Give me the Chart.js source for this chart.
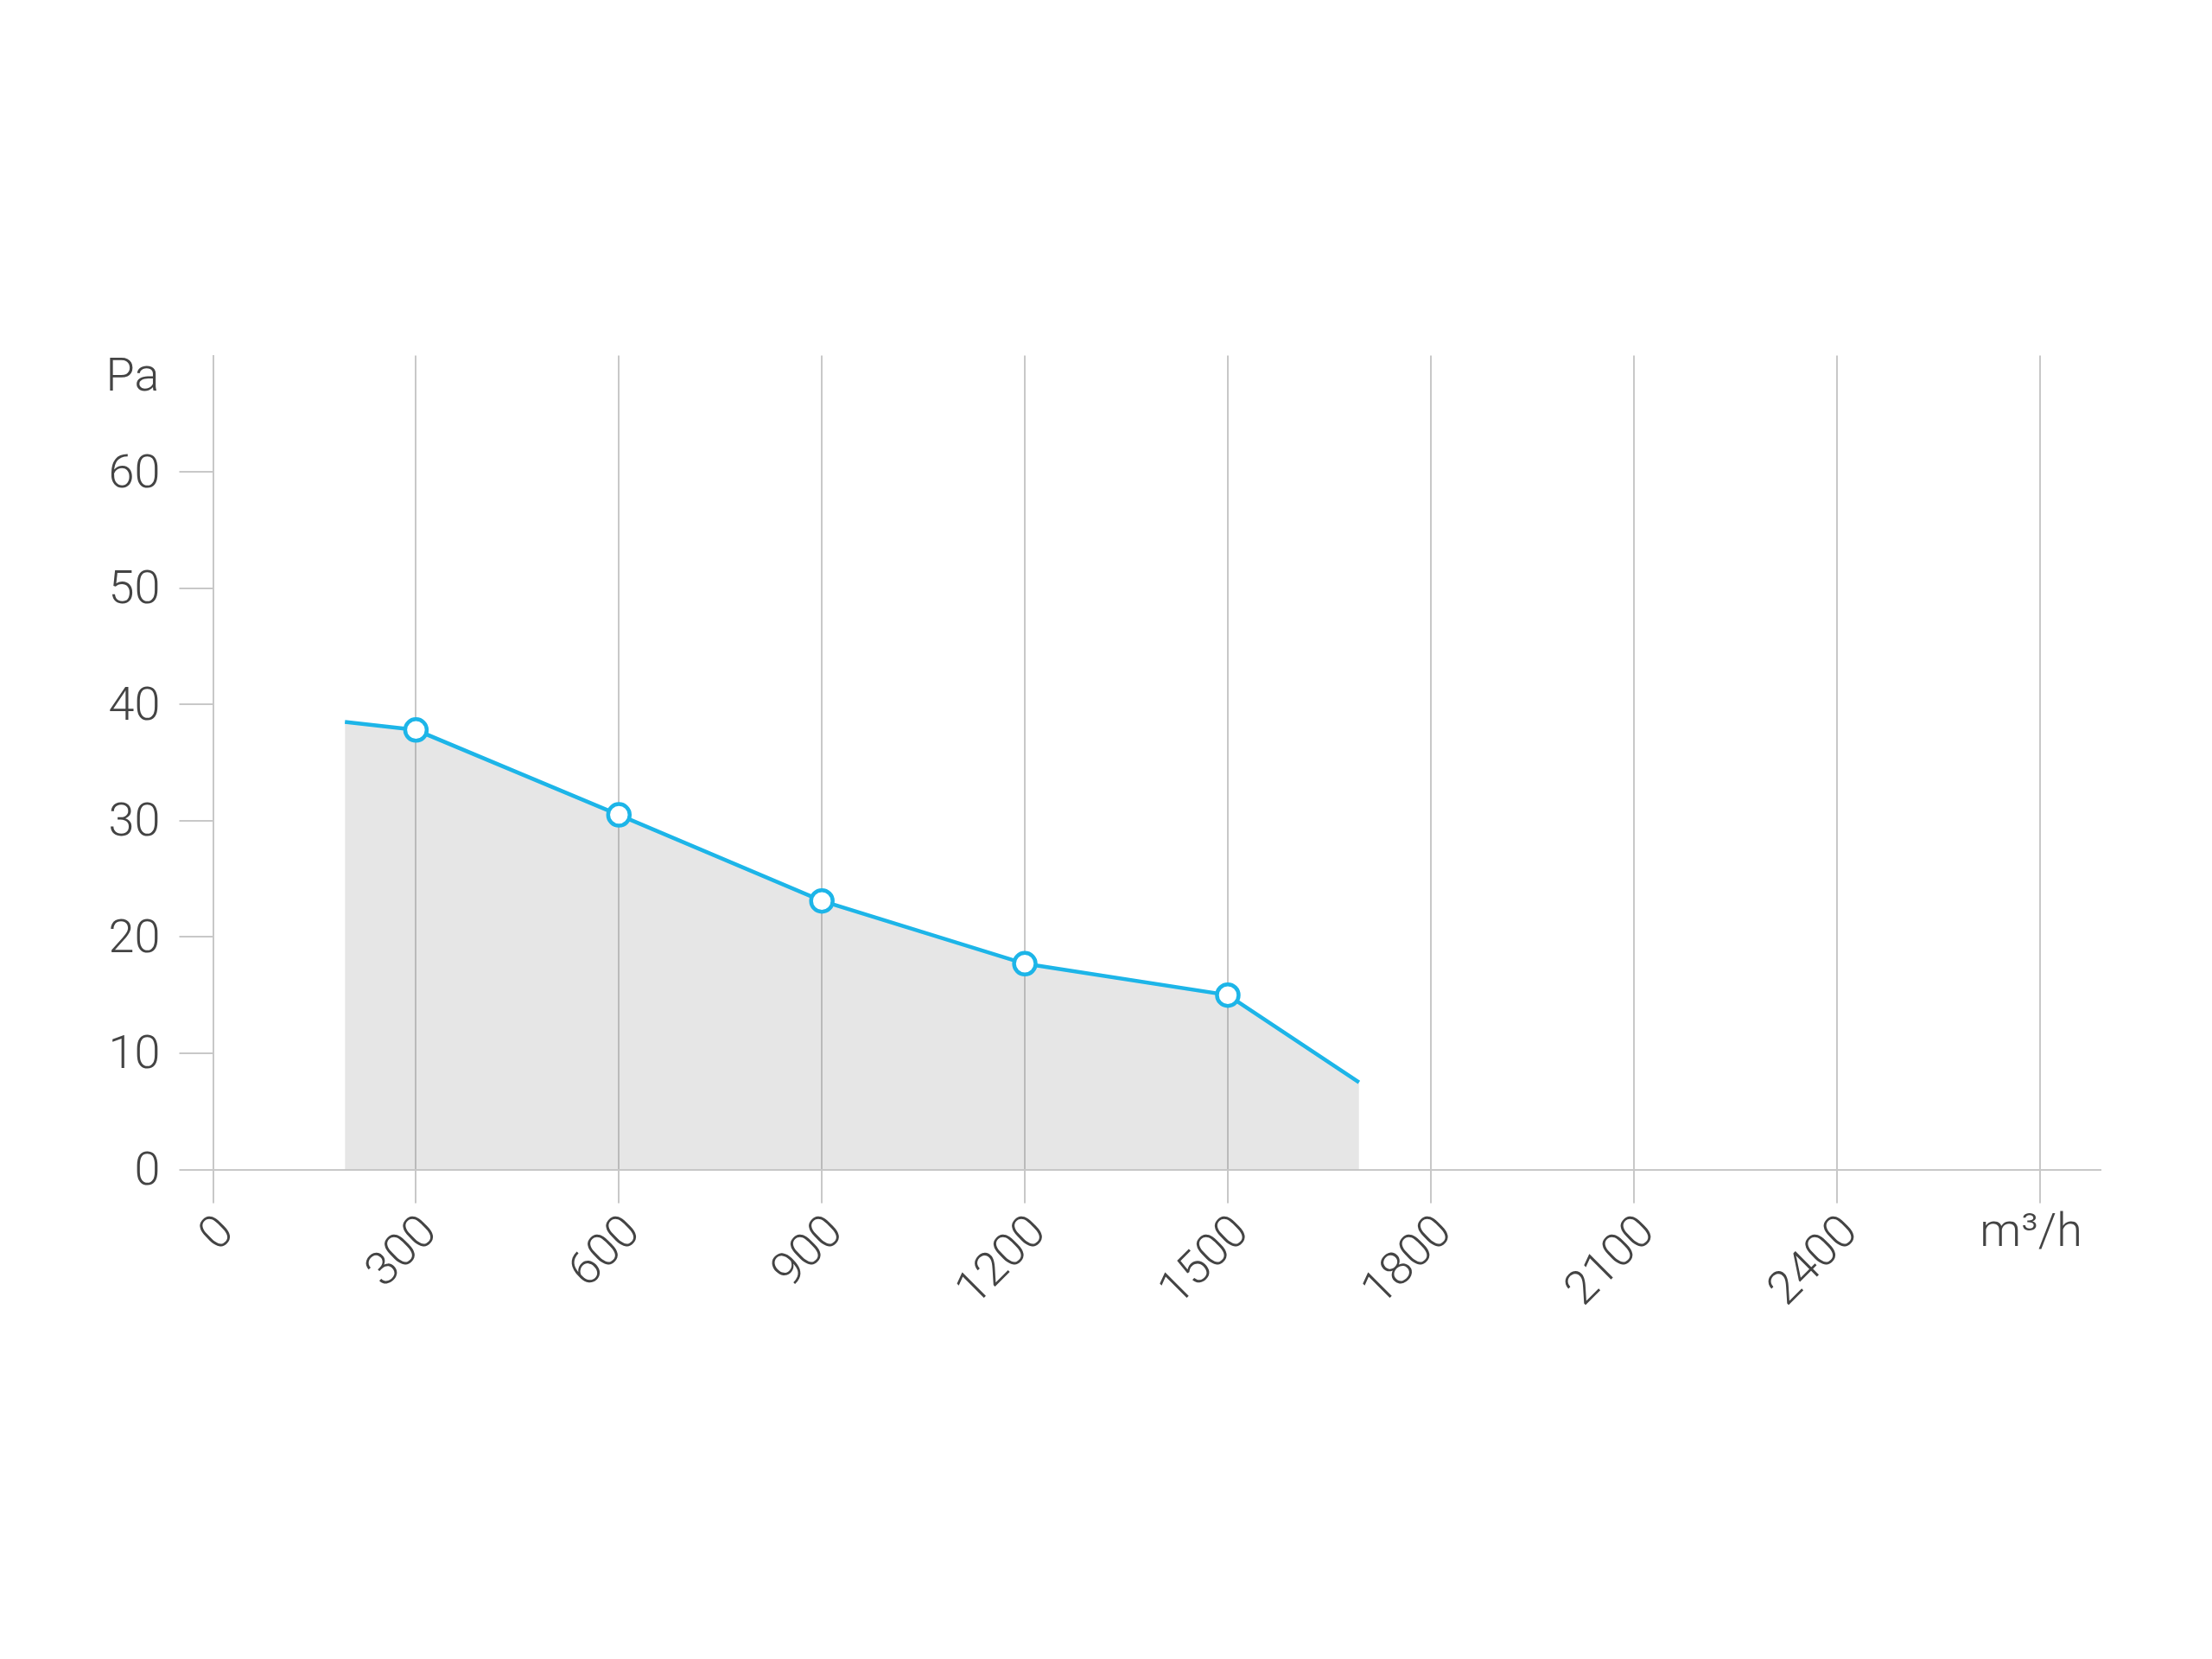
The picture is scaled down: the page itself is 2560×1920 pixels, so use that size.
<!DOCTYPE html>
<html><head><meta charset="utf-8">
<script src="https://cdn.jsdelivr.net/npm/chart.js@4"></script>
<style>html,body{margin:0;padding:0;background:#fff}#wrap{width:2560px;height:1920px}</style>
</head><body><div id="wrap"><canvas id="c" width="2560" height="1920"></canvas></div>
<script>
// Data
const flowValues = [195, 300, 600, 900, 1200, 1500, 1694];
const pressureValues = [38.5, 37.8, 30.5, 23.1, 17.7, 15.0, 7.5];
const markerFlags = [false, true, true, true, true, true, false];
const xTicks = [0, 300, 600, 900, 1200, 1500, 1800, 2100, 2400, 2700];
const yTicks = [0, 10, 20, 30, 40, 50, 60];
const xUnit = 'm³/h';
const yUnit = 'Pa';

const FONT = {family: 'Roboto', size: 54, weight: '300'};
const TEXT = '#444444';
const GRID = '#c8c8c8';

const unitLabels = {
  id: 'unitLabels',
  afterDraw(chart) {
    const ctx = chart.ctx, ca = chart.chartArea;
    ctx.save();
    ctx.font = '300 54px Roboto';
    ctx.fillStyle = TEXT;
    ctx.textBaseline = 'alphabetic';
    ctx.textAlign = 'right';
    ctx.fillText(yUnit, ca.left - 62, chart.scales.y.getPixelForValue(70) + 40.5);
    ctx.textAlign = 'center';
    ctx.fillText(xUnit, chart.scales.x.getPixelForValue(2700) - 10, ca.bottom + 88);
    ctx.restore();
  }
};

new Chart(document.getElementById('c'), {
  type: 'line',
  data: {
    datasets: [{
      data: flowValues.map((x, i) => ({x: x, y: pressureValues[i]})),
      borderColor: '#1db5e8',
      borderWidth: 4.5,
      backgroundColor: 'rgba(128,128,128,0.2)',
      fill: 'origin',
      tension: 0,
      pointRadius: markerFlags.map(f => f ? 12.5 : 0),
      pointBorderWidth: 4.5,
      pointBackgroundColor: '#ffffff',
      pointBorderColor: '#1db5e8'
    }]
  },
  options: {
    responsive: false,
    animation: false,
    devicePixelRatio: 1,
    layout: {padding: {left: 0, top: 411.5, right: 129, bottom: 0}},
    plugins: {legend: {display: false}, tooltip: {enabled: false}},
    scales: {
      x: {
        type: 'linear', min: 0, max: 2790,
        afterBuildTicks: s => { s.ticks = xTicks.map(v => ({value: v})); },
        afterFit: s => { s.height = 566.5; },
        grid: {color: GRID, lineWidth: 2, tickLength: 39, drawOnChartArea: true},
        border: {color: GRID, width: 2},
        ticks: {
          color: TEXT, font: FONT, minRotation: 45, maxRotation: 45, autoSkip: false,
          padding: 3, labelOffset: 17,
          callback: v => v === 2700 ? '' : String(v)
        }
      },
      y: {
        type: 'linear', min: 0, max: 70,
        afterBuildTicks: s => { s.ticks = yTicks.map(v => ({value: v})); },
        afterFit: s => { s.width = 246.5; },
        grid: {color: GRID, lineWidth: 2, tickLength: 39, drawOnChartArea: false},
        border: {color: GRID, width: 2},
        ticks: {color: TEXT, font: FONT, padding: 22, labelOffset: 4}
      }
    }
  },
  plugins: [unitLabels]
});
</script></body></html>
